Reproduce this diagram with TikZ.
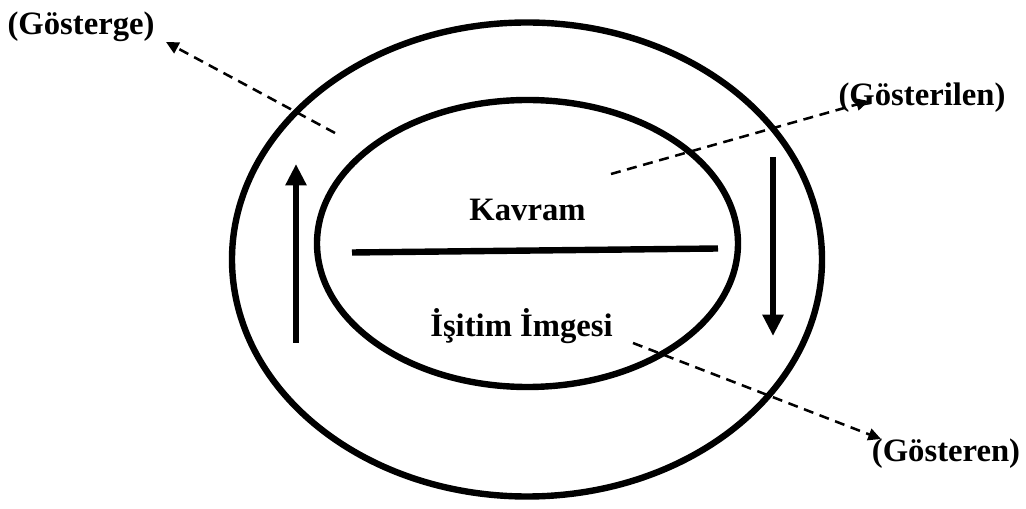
\documentclass[tikz,border=0pt]{standalone}
\usepackage{fontspec}
\setmainfont{Liberation Serif}
\usetikzlibrary{arrows.meta}
\begin{document}
\begin{tikzpicture}[x=0.75pt,y=-0.75pt,
  ring/.style={line width=4.8pt},
  solidarrow/.style={line width=4.6pt,-{Triangle[length=16pt,width=15pt]}},
  dasharrow/.style={line width=1.9pt,dash pattern=on 7.5pt off 5pt,-{Triangle[length=9.5pt,width=9pt]}},
  lbl/.style={font=\fontsize{24.5}{28}\selectfont\bfseries,inner sep=0pt}]
\useasboundingbox (0,0) rectangle (1026,509);
\draw[ring] (527,259.5) ellipse [x radius=295, y radius=237];
\draw[ring] (527.5,243.5) ellipse [x radius=210.5, y radius=143.5];
\coordinate (hl) at (352,252.5);
\coordinate (hr) at (718,248.5);
\draw[line width=4.8pt] (hl) -- (hr);
\coordinate (ub) at (296,343);
\coordinate (ut) at (296,164);
\draw[solidarrow] (ub) -- (ut);
\coordinate (dt) at (773,157);
\coordinate (db) at (773,336);
\draw[solidarrow] (dt) -- (db);
\node[lbl,anchor=base] (kavram) at (527.5,221) {Kavram};
\node[lbl,anchor=base] (imge) at (521.5,337) {İşitim İmgesi};
\node[lbl] (gosterge) at (81,27) {(Gösterge)};
\node[lbl] (gosterilen) at (922,98) {(Gösterilen)};
\node[lbl] (gosteren) at (946,454) {(Gösteren)};
\coordinate (s1) at (335,133);
\coordinate (t1) at (166,42);
\draw[dasharrow] (s1) -- (t1);
\coordinate (s2) at (611,174);
\coordinate (t2) at (869,101);
\draw[dasharrow] (s2) -- (t2);
\coordinate (s3) at (633,343);
\coordinate (t3) at (881,439);
\draw[dasharrow] (s3) -- (t3);
\end{tikzpicture}
\end{document}
